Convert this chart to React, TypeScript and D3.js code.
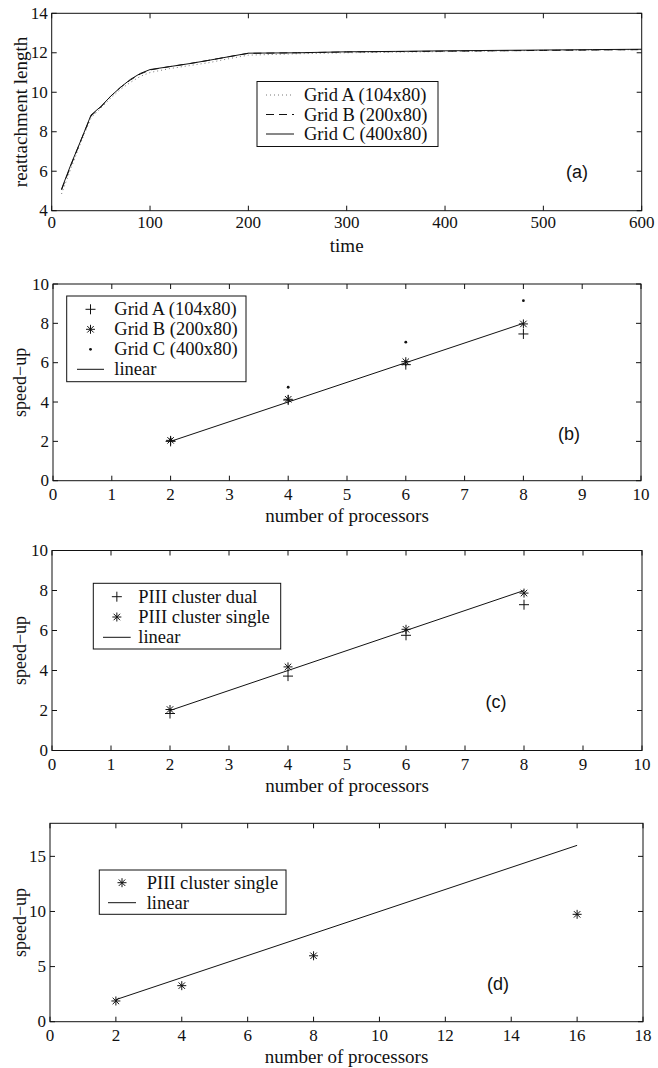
import React from "react";
import * as d3 from "d3";

// ---------- Data ----------
const timeA = [10, 20, 30, 40, 50, 60, 70, 80, 90, 100, 120, 140, 160, 180, 200, 250, 300, 350, 400, 450, 500, 550, 600];
const reattachGridA = [4.85, 6.2, 7.5, 8.7, 9.2, 9.7, 10.15, 10.5, 10.8, 11.0, 11.2, 11.35, 11.5, 11.7, 11.88, 11.95, 12.0, 12.03, 12.06, 12.09, 12.12, 12.14, 12.16];
const reattachGridB = [5.05, 6.35, 7.6, 8.8, 9.25, 9.8, 10.25, 10.62, 10.92, 11.13, 11.3, 11.45, 11.62, 11.8, 11.97, 12.0, 12.04, 12.06, 12.08, 12.1, 12.12, 12.14, 12.16];
const reattachGridC = [5.1, 6.4, 7.6, 8.85, 9.28, 9.8, 10.25, 10.65, 10.95, 11.15, 11.3, 11.45, 11.62, 11.8, 11.98, 12.0, 12.05, 12.07, 12.1, 12.12, 12.14, 12.16, 12.18];

const procsB = [2, 4, 6, 8];
const speedupGridA = [2.0, 4.1, 5.9, 7.46];
const speedupGridB = [2.05, 4.14, 6.05, 7.97];
const speedupGridC = [2.1, 4.75, 7.04, 9.15];

const procsC = [2, 4, 6, 8];
const speedupDual = [1.85, 3.72, 5.76, 7.29];
const speedupSingle = [2.05, 4.18, 6.06, 7.87];

const procsD = [2, 4, 8, 16];
const speedupSingleD = [1.88, 3.27, 5.98, 9.74];

const linearB = [2, 8];
const linearD = [2, 16];

const ticksA_x = [0, 100, 200, 300, 400, 500, 600];
const ticksA_y = [4, 6, 8, 10, 12, 14];
const ticks10 = [0, 1, 2, 3, 4, 5, 6, 7, 8, 9, 10];
const ticksY10 = [0, 2, 4, 6, 8, 10];
const ticksD_x = [0, 2, 4, 6, 8, 10, 12, 14, 16, 18];
const ticksD_y = [0, 5, 10, 15];

const SERIF: React.CSSProperties = { fontFamily: '"Liberation Serif", "DejaVu Serif", serif' };
const SANS: React.CSSProperties = { fontFamily: '"Liberation Sans", Arial, sans-serif' };
const TICK_FS = 17;
const TITLE_FS = 19;
const LEG_FS = 18.5;

type Panel = {
  left: number; right: number; top: number; bottom: number;
  xDomain: [number, number]; yDomain: [number, number];
  xTicks: number[]; yTicks: number[];
  xTitle: string; yTitle: string; labelGap: number; yTitleFs: number;
};

function plusPath(x: number, y: number, s = 5) {
  return `M${x - s},${y}H${x + s}M${x},${y - s}V${y + s}`;
}
function starPath(x: number, y: number, s = 4.5) {
  const d = s * 0.72;
  return `M${x - s},${y}H${x + s}M${x},${y - s}V${y + s}M${x - d},${y - d}L${x + d},${y + d}M${x - d},${y + d}L${x + d},${y - d}`;
}

function Axes({ p, children }: { p: Panel; children: (x: d3.ScaleLinear<number, number>, y: d3.ScaleLinear<number, number>) => React.ReactNode }) {
  const x = d3.scaleLinear().domain(p.xDomain).range([p.left, p.right]);
  const y = d3.scaleLinear().domain(p.yDomain).range([p.bottom, p.top]);
  const tl = 5;
  const cy = (p.top + p.bottom) / 2;
  return (
    <g>
      {children(x, y)}
      <rect x={p.left} y={p.top} width={p.right - p.left} height={p.bottom - p.top} fill="none" stroke="#111" strokeWidth={1} />
      {p.xTicks.map((t) => (
        <g key={"xt" + t}>
          <line x1={x(t)} x2={x(t)} y1={p.bottom} y2={p.bottom - tl} stroke="#111" />
          <line x1={x(t)} x2={x(t)} y1={p.top} y2={p.top + tl} stroke="#111" />
          <text x={x(t)} y={p.bottom + p.labelGap} style={SERIF} fontSize={TICK_FS} textAnchor="middle" dominantBaseline="central" fill="#111">{t}</text>
        </g>
      ))}
      {p.yTicks.map((t) => (
        <g key={"yt" + t}>
          <line x1={p.left} x2={p.left + tl} y1={y(t)} y2={y(t)} stroke="#111" />
          <line x1={p.right} x2={p.right - tl} y1={y(t)} y2={y(t)} stroke="#111" />
          <text x={p.left - 4} y={y(t)} style={SERIF} fontSize={TICK_FS} textAnchor="end" dominantBaseline="central" fill="#111">{t}</text>
        </g>
      ))}
      <text x={(p.left + p.right) / 2} y={p.bottom + 35} style={SERIF} fontSize={TITLE_FS} textAnchor="middle" dominantBaseline="central" fill="#111">{p.xTitle}</text>
      <text transform={`translate(20,${cy}) rotate(-90)`} style={SERIF} fontSize={p.yTitleFs} textAnchor="middle" dominantBaseline="central" fill="#111">{p.yTitle}</text>
    </g>
  );
}

function Legend({ x0, y0, w, h, entries, sampleX, textX, rowY }: {
  x0: number; y0: number; w: number; h: number;
  entries: { label: string; kind: string }[]; sampleX: [number, number]; textX: number; rowY: number[];
}) {
  const mid = (sampleX[0] + sampleX[1]) / 2;
  return (
    <g>
      <rect x={x0} y={y0} width={w} height={h} fill="#fff" stroke="#111" strokeWidth={1} />
      {entries.map((e, i) => {
        const yy = rowY[i];
        let mark: React.ReactNode = null;
        if (e.kind === "plus") mark = <path d={plusPath(mid, yy)} stroke="#111" fill="none" />;
        else if (e.kind === "star") mark = <path d={starPath(mid, yy)} stroke="#111" fill="none" />;
        else if (e.kind === "dot") mark = <circle cx={mid} cy={yy} r={1.4} fill="#111" />;
        else if (e.kind === "solid") mark = <line x1={sampleX[0]} x2={sampleX[1]} y1={yy} y2={yy} stroke="#111" />;
        else if (e.kind === "dashed") mark = <line x1={sampleX[0]} x2={sampleX[1]} y1={yy} y2={yy} stroke="#111" strokeDasharray="8,5" />;
        else if (e.kind === "dotted") mark = <line x1={sampleX[0]} x2={sampleX[1]} y1={yy} y2={yy} stroke="#777" strokeDasharray="1,3" />;
        return (
          <g key={i}>
            {mark}
            <text x={textX} y={yy} style={SERIF} fontSize={LEG_FS} dominantBaseline="central" fill="#111">{e.label}</text>
          </g>
        );
      })}
    </g>
  );
}

const panelA: Panel = { left: 51.7, right: 641.7, top: 13.3, bottom: 210.7, xDomain: [0, 600], yDomain: [4, 14], xTicks: ticksA_x, yTicks: ticksA_y, xTitle: "time", yTitle: "reattachment length", labelGap: 12, yTitleFs: 19 };
const panelB: Panel = { left: 53, right: 641, top: 284, bottom: 480.7, xDomain: [0, 10], yDomain: [0, 10], xTicks: ticks10, yTicks: ticksY10, xTitle: "number of processors", yTitle: "speed\u2212up", labelGap: 14, yTitleFs: 18 };
const panelC: Panel = { left: 52, right: 642, top: 550.5, bottom: 750.5, xDomain: [0, 10], yDomain: [0, 10], xTicks: ticks10, yTicks: ticksY10, xTitle: "number of processors", yTitle: "speed\u2212up", labelGap: 14, yTitleFs: 18 };
const panelD: Panel = { left: 50, right: 643, top: 823.3, bottom: 1021.7, xDomain: [0, 18], yDomain: [0, 18], xTicks: ticksD_x, yTicks: ticksD_y, xTitle: "number of processors", yTitle: "speed\u2212up", labelGap: 14, yTitleFs: 18 };

export default function App() {
  return (
    <div style={{ position: "absolute", left: 0, top: 0 }}>
      <svg width={658} height={1068} style={{ display: "block", background: "#fff" }}>
        {/* Panel (a) */}
        <Axes p={panelA}>
          {(x, y) => {
            const line = (vals: number[]) => d3.line<number>().x((_, i) => x(timeA[i])).y((v) => y(v))(vals) || "";
            return (
              <g>
                <path d={line(reattachGridA)} fill="none" stroke="#777" strokeWidth={1} strokeDasharray="1,3" />
                <path d={line(reattachGridB)} fill="none" stroke="#111" strokeWidth={1} strokeDasharray="8,5" />
                <path d={line(reattachGridC)} fill="none" stroke="#111" strokeWidth={1} />
                <text x={577} y={171.5} style={SANS} fontSize={18} textAnchor="middle" dominantBaseline="central" fill="#111">(a)</text>
              </g>
            );
          }}
        </Axes>
        <Legend x0={257} y0={81.5} w={181} h={65} sampleX={[266, 294]} textX={304} rowY={[95, 114.5, 134]}
          entries={[{ label: "Grid A (104x80)", kind: "dotted" }, { label: "Grid B (200x80)", kind: "dashed" }, { label: "Grid C (400x80)", kind: "solid" }]} />

        {/* Panel (b) */}
        <Axes p={panelB}>
          {(x, y) => (
            <g>
              <path d={d3.line<number>().x((v) => x(v)).y((v) => y(v))(linearB) || ""} fill="none" stroke="#111" />
              {procsB.map((n, i) => <path key={"a" + i} d={plusPath(x(n), y(speedupGridA[i]))} stroke="#111" fill="none" />)}
              {procsB.map((n, i) => <path key={"b" + i} d={starPath(x(n), y(speedupGridB[i]))} stroke="#111" fill="none" />)}
              {procsB.map((n, i) => <circle key={"c" + i} cx={x(n)} cy={y(speedupGridC[i])} r={1.4} fill="#111" />)}
              <text x={569} y={434} style={SANS} fontSize={18} textAnchor="middle" dominantBaseline="central" fill="#111">(b)</text>
            </g>
          )}
        </Axes>
        <Legend x0={66.7} y0={296} w={179.3} h={85.7} sampleX={[77, 104]} textX={114.3} rowY={[309.3, 329.3, 349.3, 369.3]}
          entries={[{ label: "Grid A (104x80)", kind: "plus" }, { label: "Grid B (200x80)", kind: "star" }, { label: "Grid C (400x80)", kind: "dot" }, { label: "linear", kind: "solid" }]} />

        {/* Panel (c) */}
        <Axes p={panelC}>
          {(x, y) => (
            <g>
              <path d={d3.line<number>().x((v) => x(v)).y((v) => y(v))(linearB) || ""} fill="none" stroke="#111" />
              {procsC.map((n, i) => <path key={"d" + i} d={plusPath(x(n), y(speedupDual[i]))} stroke="#111" fill="none" />)}
              {procsC.map((n, i) => <path key={"s" + i} d={starPath(x(n), y(speedupSingle[i]))} stroke="#111" fill="none" />)}
              <text x={496} y={701.7} style={SANS} fontSize={18} textAnchor="middle" dominantBaseline="central" fill="#111">(c)</text>
            </g>
          )}
        </Axes>
        <Legend x0={93.3} y0={583.3} w={187.4} h={65.7} sampleX={[103, 130.7]} textX={138.3} rowY={[596.7, 617, 637.3]}
          entries={[{ label: "PIII cluster dual", kind: "plus" }, { label: "PIII cluster single", kind: "star" }, { label: "linear", kind: "solid" }]} />

        {/* Panel (d) */}
        <Axes p={panelD}>
          {(x, y) => (
            <g>
              <path d={d3.line<number>().x((v) => x(v)).y((v) => y(v))(linearD) || ""} fill="none" stroke="#111" />
              {procsD.map((n, i) => <path key={"s" + i} d={starPath(x(n), y(speedupSingleD[i]))} stroke="#111" fill="none" />)}
              <text x={498} y={984.3} style={SANS} fontSize={18} textAnchor="middle" dominantBaseline="central" fill="#111">(d)</text>
            </g>
          )}
        </Axes>
        <Legend x0={99.3} y0={870} w={186.7} h={44.3} sampleX={[108, 136]} textX={146.7} rowY={[882.7, 902.7]}
          entries={[{ label: "PIII cluster single", kind: "star" }, { label: "linear", kind: "solid" }]} />
      </svg>
    </div>
  );
}
